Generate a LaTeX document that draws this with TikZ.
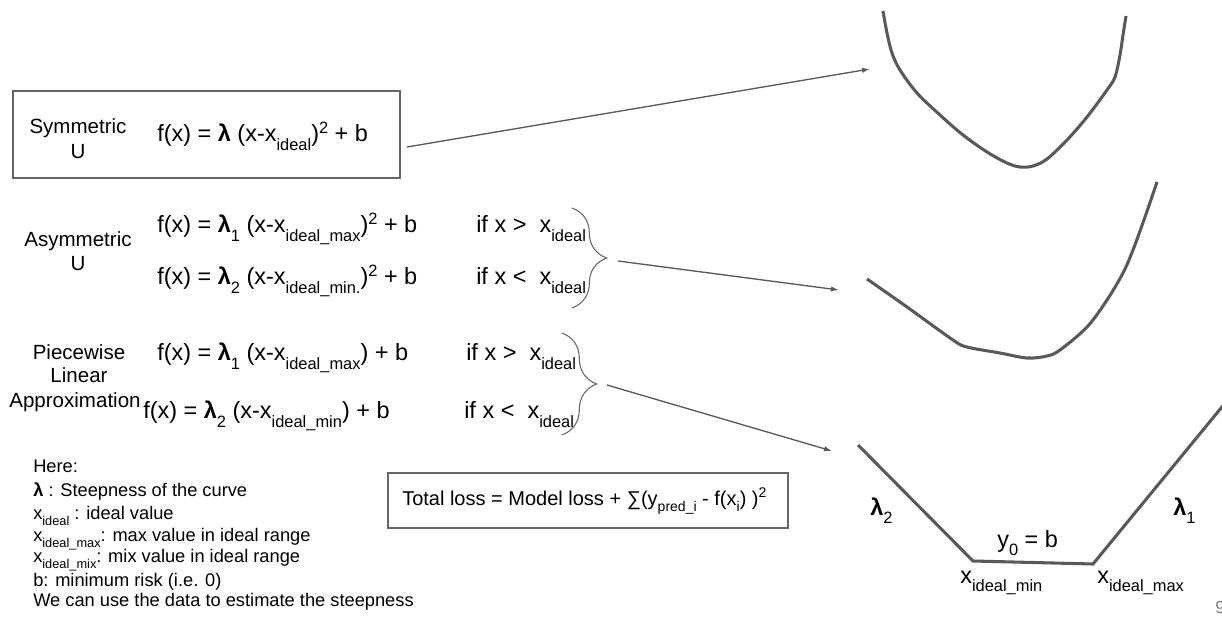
\documentclass[tikz,border=0pt]{standalone}
\usepackage{fontspec}
\usepackage{graphicx}
\setmainfont{Liberation Sans}
\usetikzlibrary{arrows.meta,decorations.pathreplacing}

\definecolor{ink}{HTML}{000000}
\definecolor{curve}{HTML}{595959}
\definecolor{rule}{HTML}{666666}
\definecolor{pagenum}{HTML}{7F7F7F}

% lowered / raised small text, as in the formulas
\newcommand{\sbx}[1]{\raisebox{-0.35em}{\scalebox{0.7}{#1}}}
\newcommand{\spx}[1]{\raisebox{0.36em}{\scalebox{0.7}{#1}}}
\newcommand{\lam}{{\bfseries λ}}

\newcommand{\fsLabel}{\fontsize{15.4}{18}\selectfont}
\newcommand{\fsEq}{\fontsize{17.6}{21}\selectfont}
\newcommand{\fsLoss}{\fontsize{15}{18}\selectfont}
\newcommand{\fsNote}{\fontsize{13.7}{16}\selectfont}

\begin{document}
\begin{tikzpicture}[x=0.75pt,y=-0.75pt,
  lbl/.style={anchor=base, inner sep=0pt, font=\fsLabel, text=ink},
  eqn/.style={anchor=base west, inner sep=0pt, font=\fsEq, text=ink},
  note/.style={anchor=base west, inner sep=0pt, font=\fsNote, text=ink},
  frame/.style={draw=rule, line width=1.1pt, inner sep=0pt},
  curvepath/.style={draw=curve, line width=2.3pt},
  link/.style={draw=curve, line width=1pt, -{Latex[length=6pt,width=4pt]}},
  bracepath/.style={draw=rule, line width=0.8pt, decorate,
    decoration={brace, amplitude=26pt}}]
\useasboundingbox (0,0) rectangle (1222,627);

% ---- symmetric U ----
\node[frame, minimum width=290.25pt, minimum height=65.25pt] (symbox) at (206.5,134.5) {};
\node[lbl] (symA) at (78,134) {Symmetric};
\node[lbl] (symB) at (78,159) {U};
\node[eqn] (symEq) at (157,142) {f(x) = \lam\ (x-x\sbx{ideal})\spx{2} + b};

% ---- asymmetric U ----
\node[lbl] (asyA) at (78,247) {Asymmetric};
\node[lbl] (asyB) at (78,271) {U};
\node[eqn] (asyEq1) at (157,233) {f(x) = \lam\sbx{1} (x-x\sbx{ideal\_max})\spx{2} + b};
\node[eqn] (asyEq2) at (157,285) {f(x) = \lam\sbx{2} (x-x\sbx{ideal\_min.})\spx{2} + b};
\node[eqn] (asyIf1) at (476,233) {if x >\ \ x\sbx{ideal}};
\node[eqn] (asyIf2) at (476,285) {if x <\ \ x\sbx{ideal}};

% ---- piecewise linear ----
\node[lbl] (pwA) at (79,360) {Piecewise};
\node[lbl] (pwB) at (79,383) {Linear};
\node[lbl] (pwC) at (75,407) {Approximation};
\node[eqn] (pwEq1) at (157,361) {f(x) = \lam\sbx{1} (x-x\sbx{ideal\_max}) + b};
\node[eqn] (pwEq2) at (143,419) {f(x) = \lam\sbx{2} (x-x\sbx{ideal\_min}) + b};
\node[eqn] (pwIf1) at (466,361) {if x >\ \ x\sbx{ideal}};
\node[eqn] (pwIf2) at (464,419) {if x <\ \ x\sbx{ideal}};

% ---- braces ----
\coordinate (asyTop) at (572,208);
\coordinate (asyBot) at (572,308);
\coordinate (pwTop) at (562,333);
\coordinate (pwBot) at (562,435);
\draw[bracepath] (asyTop) -- (asyBot);
\draw[bracepath] (pwTop) -- (pwBot);

% ---- notes ----
\node[note] (n0) at (33,473) {Here:};
\node[note] (n1) at (33,497) {\lam\ : Steepness of the curve};
\node[note] (n2) at (33,519) {x\sbx{ideal} : ideal value};
\node[note] (n3) at (33,541) {x\sbx{ideal\_max}: max value in ideal range};
\node[note] (n4) at (33,562) {x\sbx{ideal\_mix}: mix value in ideal range};
\node[note] (n5) at (33,586) {b: minimum risk (i.e. 0)};
\node[note] (n6) at (33,606) {We can use the data to estimate the steepness};

% ---- total loss ----
\node[frame, minimum width=300pt, minimum height=41.25pt] (lossbox) at (588,500.5) {};
\node[anchor=base west, inner sep=0pt, font=\fsLoss, text=ink] (loss) at (402,505)
  {Total loss = Model loss + ∑(y\sbx{pred\_i} - f(x\sbx{i}) )\spx{2}};

% ---- curves ----
\draw[curvepath] plot[smooth, tension=0.55] coordinates {
  (883,11) (887,33) (892,53) (900,70) (917,93) (940,115) (963,135) (987,152)
  (1007,163) (1020,167) (1033,166) (1047,159) (1067,140) (1087,117) (1107,90)
  (1115,77) (1120,55) (1123,35) (1126,16)};
\draw[curvepath] plot[smooth, tension=0.55] coordinates {
  (867,279) (907,307) (953,340) (967,347) (1000,353) (1027,358) (1047,356)
  (1060,350) (1087,327) (1107,300) (1123,273) (1133,250) (1145,217) (1157,182)};
\coordinate (plA) at (858,445);
\coordinate (plB) at (973,561);
\coordinate (plC) at (1093,564);
\coordinate (plD) at (1226,402);
\draw[curvepath] (plA) -- (plB) -- (plC) -- (plD);

% ---- graph labels ----
\node[eqn] (gl2) at (870,515) {\lam\sbx{2}};
\node[eqn] (gl1) at (1173,515) {\lam\sbx{1}};
\node[eqn] (gy0) at (997,547) {y\sbx{0} = b};
\node[eqn] (gxmin) at (960,583) {x\sbx{ideal\_min}};
\node[eqn] (gxmax) at (1097,583) {x\sbx{ideal\_max}};
\node[anchor=base west, inner sep=0pt, font=\fontsize{13}{15}\selectfont, text=pagenum] (pg) at (1215,613) {9};

% ---- connectors ----
\coordinate (symOut) at (407,147);
\coordinate (symIn) at (870,69);
\coordinate (asyOut) at (618,261);
\coordinate (asyIn) at (839,290);
\coordinate (pwOut) at (607,385);
\coordinate (pwIn) at (832,451);
\draw[link] (symOut) -- (symIn);
\draw[link] (asyOut) -- (asyIn);
\draw[link] (pwOut) -- (pwIn);
\end{tikzpicture}
\end{document}
